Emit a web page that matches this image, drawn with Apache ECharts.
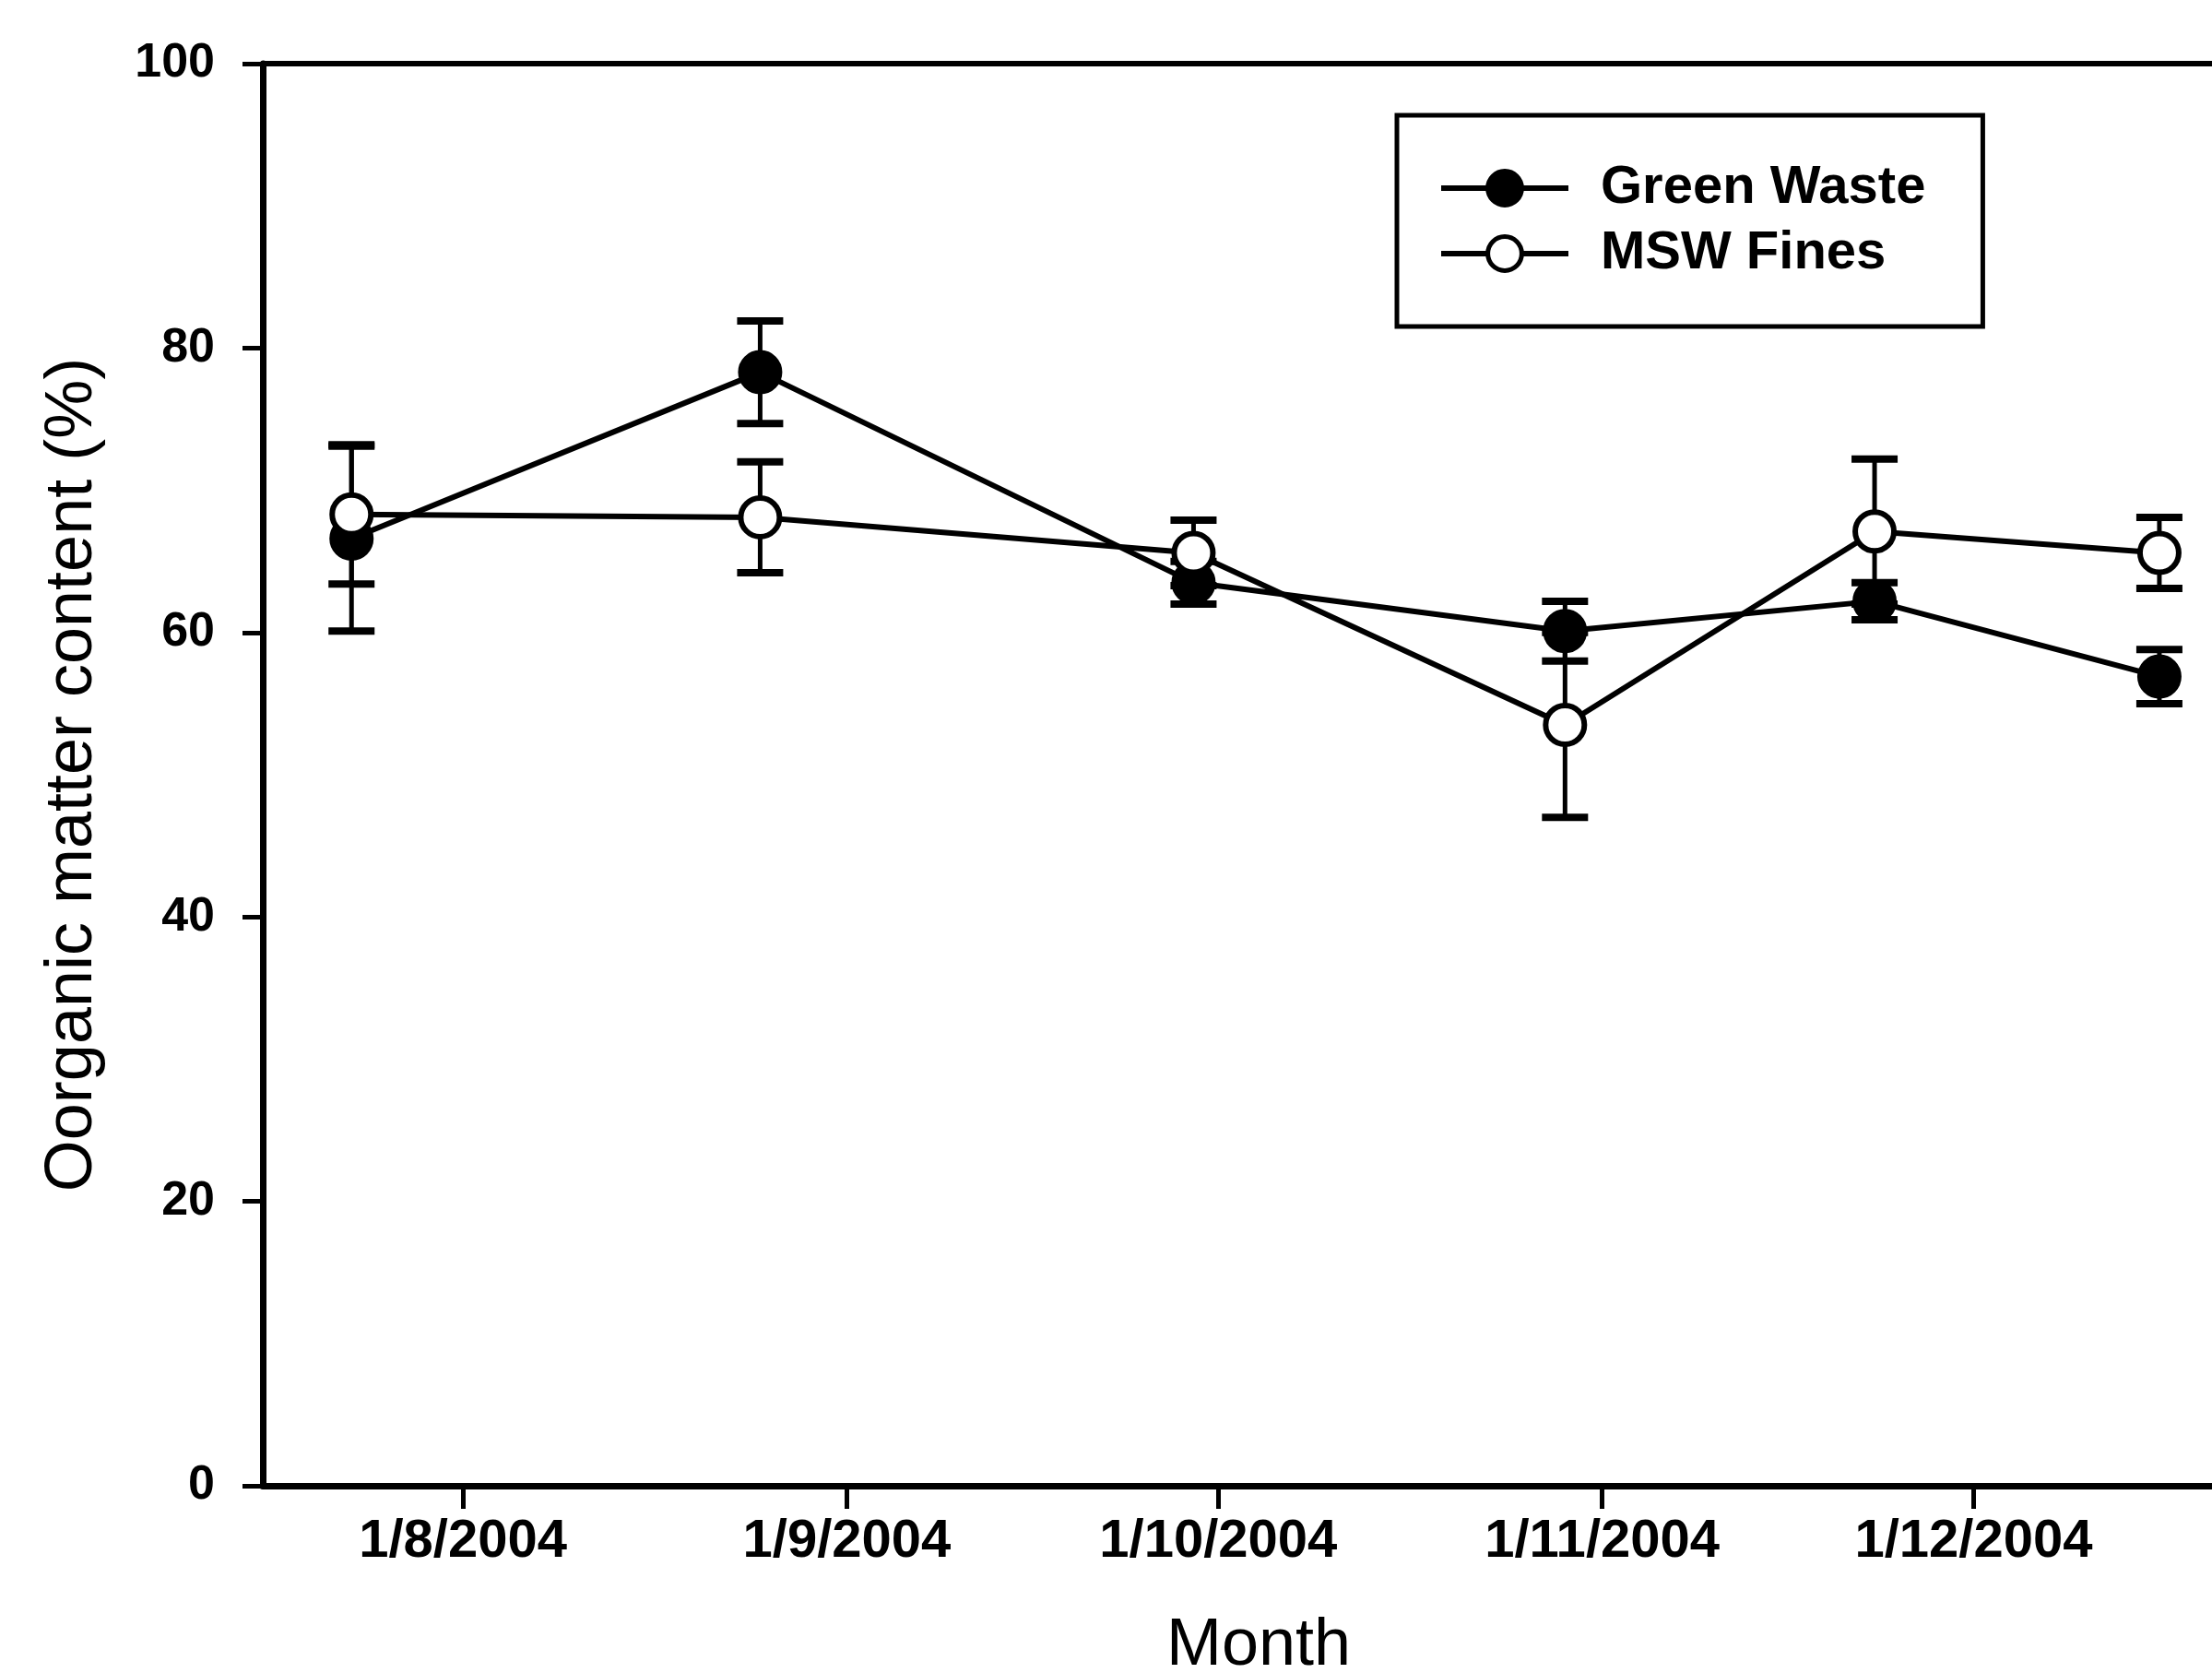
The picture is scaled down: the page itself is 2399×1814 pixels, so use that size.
<!DOCTYPE html>
<html>
<head>
<meta charset="utf-8">
<script src="https://cdn.jsdelivr.net/npm/echarts@6/dist/echarts.min.js"></script>
<style>
html,body{margin:0;padding:0;background:#fff;}
#chart{width:2399px;height:1814px;}
</style>
</head>
<body>
<div id="chart"></div>
<script>
// ---- data ----
const sampleDates = ['2004-07-23', '2004-08-25', '2004-09-29', '2004-10-29', '2004-11-23', '2004-12-16'];
const greenWaste = [66.6, 78.3, 63.5, 60.1, 62.2, 56.9];
const greenWasteErr = [6.5, 3.6, 1.5, 2.1, 1.3, 1.9];
const mswFines = [68.3, 68.1, 65.6, 53.5, 67.1, 65.6];
const mswFinesErr = [4.9, 3.9, 2.3, 6.5, 5.1, 2.5];
const monthTicks = ['2004-08-01', '2004-09-01', '2004-10-01', '2004-11-01', '2004-12-01'];
const yTicks = [0, 20, 40, 60, 80, 100];
const seriesNames = ['Green Waste', 'MSW Fines'];
const xTitle = 'Month';
const yTitle = 'Oorganic matter content (%)';

// ---- build ----
const FONT = '"Liberation Sans", Arial, Helvetica, sans-serif';
const toTs = s => { const [y, m, d] = s.split('-').map(Number); return new Date(y, m - 1, d).getTime(); };
const tickTs = monthTicks.map(toTs);
const pts = (vals) => sampleDates.map((d, i) => [toTs(d), vals[i]]);
const errPts = (vals, errs) => sampleDates.map((d, i) => [toTs(d), vals[i] - errs[i], vals[i] + errs[i]]);

function errRender(params, api) {
  const x = api.value(0);
  const lo = api.coord([x, api.value(1)]);
  const hi = api.coord([x, api.value(2)]);
  const half = 25;
  const st = { stroke: '#000', lineWidth: 5 };
  const cap = { stroke: '#000', lineWidth: 8 };
  return {
    type: 'group',
    children: [
      { type: 'line', shape: { x1: lo[0], y1: lo[1], x2: hi[0], y2: hi[1] }, style: st },
      { type: 'line', shape: { x1: hi[0] - half, y1: hi[1], x2: hi[0] + half, y2: hi[1] }, style: cap },
      { type: 'line', shape: { x1: lo[0] - half, y1: lo[1], x2: lo[0] + half, y2: lo[1] }, style: cap }
    ]
  };
}

const minTs = new Date(2004, 6, 15, 20, 0).getTime();
const maxTs = new Date(2004, 11, 20, 6, 0).getTime();

const chart = echarts.init(document.getElementById('chart'), null, { renderer: 'canvas' });
chart.setOption({
  animation: false,
  backgroundColor: '#fff',
  textStyle: { fontFamily: FONT, color: '#000' },
  grid: { left: 285, right: 0, top: 69, bottom: 203, containLabel: false, outerBoundsMode: 'none' },
  legend: {
    left: 1515, top: 125,
    orient: 'vertical',
    data: seriesNames,
    backgroundColor: '#fff',
    borderColor: '#000', borderWidth: 5,
    padding: [50, 62, 50, 45],
    itemWidth: 138, itemHeight: 46, itemGap: 13,
    lineStyle: { width: 6, color: '#000' },
    itemStyle: { borderWidth: 5, borderColor: '#000' },
    textStyle: { fontFamily: FONT, fontSize: 58, fontWeight: 'bold', color: '#000', lineHeight: 58, padding: [0, 0, 0, 30] }
  },
  xAxis: [{
    type: 'value',
    min: minTs, max: maxTs,
    name: xTitle, nameLocation: 'middle', nameGap: 138,
    nameTextStyle: { fontFamily: FONT, fontSize: 72, color: '#000', padding: [0, 0, 0, 46] },
    axisLine: { show: true, lineStyle: { color: '#000', width: 7 } },
    axisTick: { show: true, customValues: tickTs, length: 25, lineStyle: { color: '#000', width: 5 } },
    axisLabel: {
      customValues: tickTs, margin: 32,
      fontFamily: FONT, fontSize: 58, fontWeight: 'bold', color: '#000',
      formatter: v => { const d = new Date(v); return d.getDate() + '/' + (d.getMonth() + 1) + '/' + d.getFullYear(); }
    },
    splitLine: { show: false }
  }, {
    type: 'value', position: 'top',
    min: minTs, max: maxTs,
    axisLine: { show: true, lineStyle: { color: '#000', width: 6 } },
    axisTick: { show: false }, axisLabel: { show: false }, splitLine: { show: false }
  }],
  yAxis: {
    type: 'value', min: yTicks[0], max: yTicks[yTicks.length - 1], interval: 20,
    name: yTitle, nameLocation: 'middle', nameGap: 170,
    nameTextStyle: { fontFamily: FONT, fontSize: 72, color: '#000' },
    axisLine: { show: true, lineStyle: { color: '#000', width: 7 } },
    axisTick: { show: true, length: 22, lineStyle: { color: '#000', width: 5 } },
    axisLabel: { margin: 52, fontFamily: FONT, fontSize: 52, fontWeight: 'bold', color: '#000' },
    splitLine: { show: false }
  },
  series: [
    {
      type: 'custom', name: 'gwErr', renderItem: errRender, data: errPts(greenWaste, greenWasteErr),
      z: 1, silent: true, encode: { x: 0, y: [1, 2] }
    },
    {
      type: 'custom', name: 'mswErr', renderItem: errRender, data: errPts(mswFines, mswFinesErr),
      z: 1, silent: true, encode: { x: 0, y: [1, 2] }
    },
    {
      type: 'line', name: seriesNames[0], data: pts(greenWaste), z: 2,
      symbol: 'circle', symbolSize: 46,
      lineStyle: { color: '#000', width: 6 },
      itemStyle: { color: '#000', borderColor: '#000', borderWidth: 2 }
    },
    {
      type: 'line', name: seriesNames[1], data: pts(mswFines), z: 3,
      symbol: 'circle', symbolSize: 42,
      lineStyle: { color: '#000', width: 6 },
      itemStyle: { color: '#fff', borderColor: '#000', borderWidth: 6 }
    }
  ]
});
</script>
</body>
</html>
